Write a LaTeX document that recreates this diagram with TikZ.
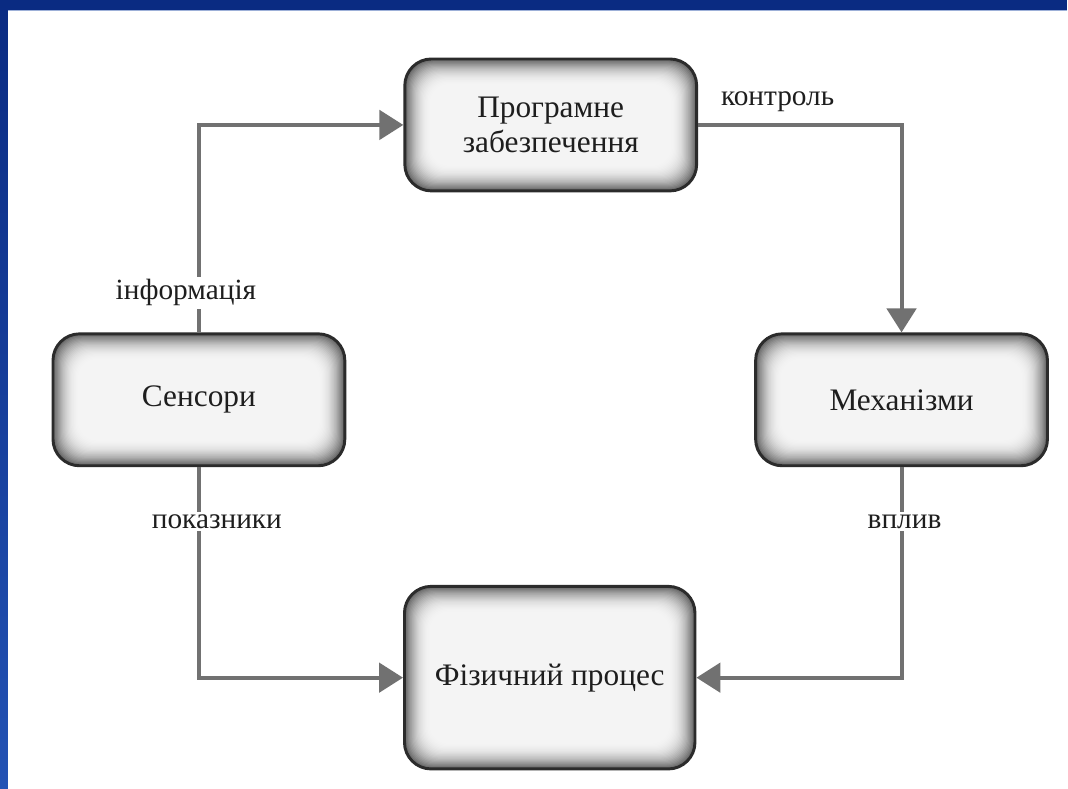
\documentclass[tikz,border=0pt]{standalone}
\usepackage{fontspec}
\setmainfont{Liberation Serif}
\usetikzlibrary{arrows.meta}

\definecolor{navy}{HTML}{0A2B82}
\definecolor{sideblue}{HTML}{2352B4}
\definecolor{edgeline}{HTML}{9DB0D8}
\definecolor{boxline}{HTML}{2B2B2B}
\definecolor{boxtext}{HTML}{1E1E1E}
\definecolor{arrowgray}{HTML}{717171}
\definecolor{boxcore}{HTML}{F4F4F4}

\tikzset{
  procbox/.style={
    rectangle, rounded corners=20pt,
    minimum width=219pt, minimum height=99pt,
    draw=boxline, line width=2.2pt, fill=boxcore,
    align=center, text=boxtext,
    font=\fontsize{23.5}{26}\selectfont,
    path picture={
      % inner glow: nested rounded fills, grey at the rim fading into the core
      \foreach \i in {0,...,22}{
        \pgfmathsetmacro{\d}{\i*0.85}
        \pgfmathsetmacro{\k}{60*(1-\i/23)^2.1}
        \fill[color=boxcore!\fpeval{100-\k}!black, rounded corners=\fpeval{max(20-\d*0.3,9)}pt]
          ([shift={(\d pt,\d pt)}]path picture bounding box.south west) rectangle
          ([shift={(-\d pt,-\d pt)}]path picture bounding box.north east);
      }
    }
  },
  conn/.style={
    draw=arrowgray, line width=3pt,
    -{Triangle[length=18pt,width=22pt]}
  },
  lbl/.style={
    text=boxtext, inner sep=2pt,
    font=\fontsize{22}{25}\selectfont
  }
}

\begin{document}
\begin{tikzpicture}[x=0.75pt,y=-0.75pt]
  % page frame: navy band on top, blue band on the left
  \fill[navy] (0,0) rectangle (1068,789);
  \shade[top color=navy, bottom color=sideblue] (0,0) rectangle (8,789);
  \fill[white] (8,10) rectangle (1068,789);
  \draw[edgeline, line width=0.8pt] (8,10.5) -- (1068,10.5);
  \useasboundingbox (0,0) rectangle (1068,789);

  % blocks of the control loop
  \node[procbox] (soft) at (551,125) {Програмне\\забезпечення};
  \node[procbox] (sens) at (199,400) {Сенсори};
  \node[procbox] (mech) at (902,400) {Механізми};
  \node[procbox, minimum width=218pt, minimum height=137pt] (phys) at (550,678) {Фізичний процес};

  % loop connectors
  \draw[conn] (sens.north) |- (soft.west);
  \draw[conn] (soft.east) -| (mech.north);
  \draw[conn] (mech.south) |- (phys.east);
  \draw[conn] (sens.south) |- (phys.west);

  % connector labels
  \node[lbl, fill=white] (linfo) at (186,293) {інформація};
  \node[lbl] (lctrl) at (778,102) {контроль};
  \node[lbl, fill=white] (lpok) at (217,522) {показники};
  \node[lbl, fill=white] (lvpl) at (905,522) {вплив};
\end{tikzpicture}
\end{document}
